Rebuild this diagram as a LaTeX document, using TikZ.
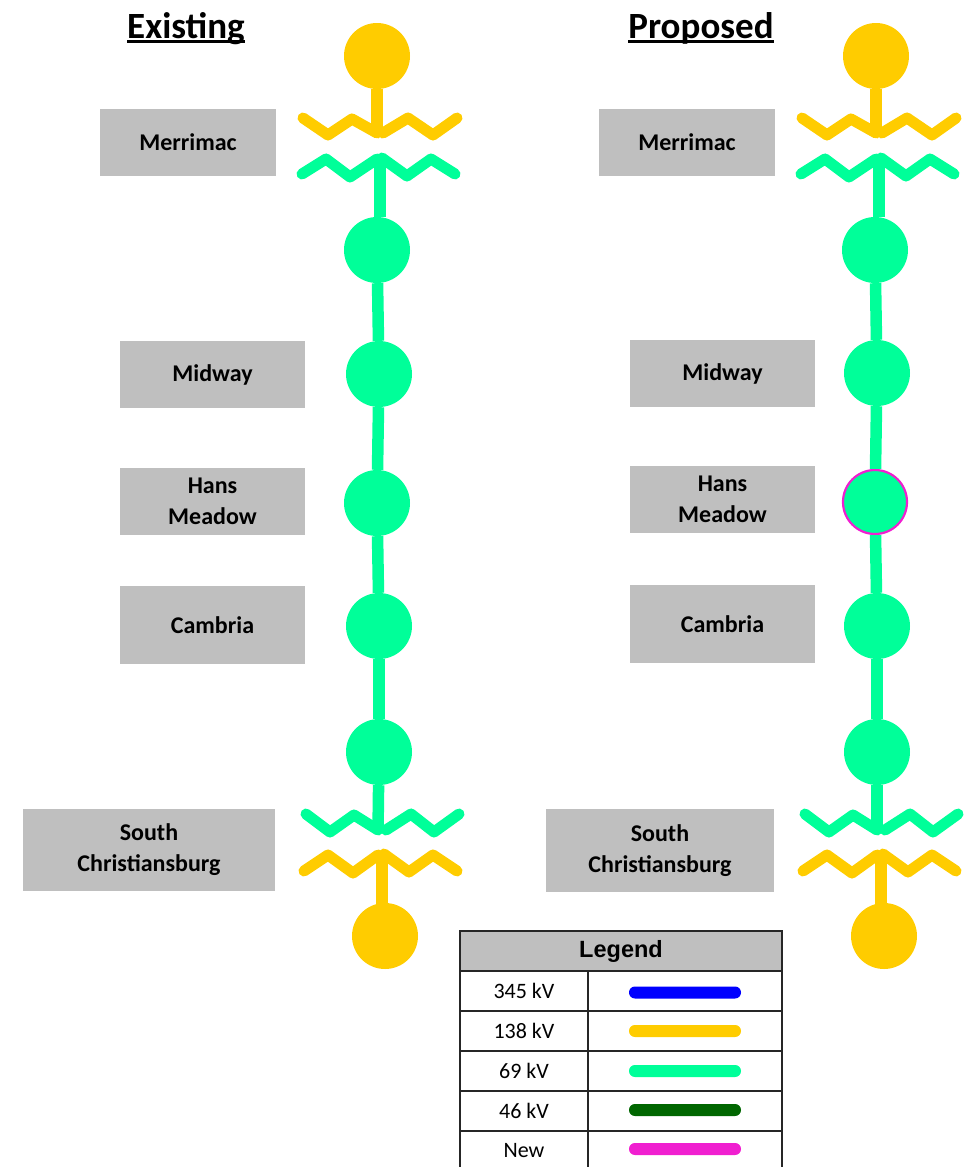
\documentclass[tikz,border=0pt]{standalone}
\usepackage{fontspec}
\setmainfont{Carlito}
\newfontfamily\arialfont{Liberation Sans}
\definecolor{yel}{HTML}{FFCC00}
\definecolor{grn}{HTML}{00FF99}
\definecolor{dgrn}{HTML}{006600}
\definecolor{mag}{HTML}{F01FD0}
\definecolor{blu}{HTML}{0000FF}
\definecolor{gry}{HTML}{BFBFBF}
\definecolor{gridc}{HTML}{262626}
\newcommand\ulbox[1]{\setbox0\hbox{#1}\rlap{\rule[-0.135em]{\wd0}{0.075em}}\box0}
\tikzset{
  bus/.style={circle,inner sep=0pt,minimum size=66pt,fill=#1},
  wire/.style={line width=11.5pt,color=#1},
  zig/.style={line width=11pt,color=#1,line cap=round,line join=round},
  label box/.style={fill=gry,font=\fontsize{24}{31}\selectfont\bfseries,align=center,inner sep=0pt,text=black},
  title text/.style={font=\fontsize{37}{44}\selectfont\bfseries,inner sep=0pt,anchor=base,text=black},
  cell/.style={draw=gridc,line width=1.5pt,inner sep=0pt,font=\fontsize{22}{26}\selectfont},
  bar/.style={fill=#1,rounded corners=5.9pt,minimum width=112pt,minimum height=12pt,inner sep=0pt},
}
\newcommand\zigtop{%
  \draw[zig=yel] (303,118)--(328,135)--(352,119)--(377,133);
  \draw[zig=yel] (383,133)--(408,118)--(433,135)--(457,118);
  \draw[zig=grn] (302,174)--(326,159)--(350,177)--(377,159);
  \draw[zig=grn] (382,158)--(407,176)--(431,159)--(455,174);
  \draw[zig=grn] (306,814)--(330,832)--(354,815)--(378,830);
  \draw[zig=grn] (386,830)--(411,814)--(434,832)--(459,814);
  \draw[zig=yel] (304,871)--(328,855)--(353,873)--(378,855);
  \draw[zig=yel] (384,854)--(409,872)--(433,855)--(457,871);
}
\begin{document}
\begin{tikzpicture}[x=1pt,y=-1pt]
\useasboundingbox (0,0) rectangle (974,1167);
% titles
\node[title text] (t1) at (186,38) {\ulbox{Existing}};
\node[title text] (t2) at (701,38) {\ulbox{Proposed}};
% zigzags
\zigtop
\begin{scope}[xshift=499pt]\zigtop\end{scope}
% existing
\node[bus=yel] (ea) at (377,56) {};
\node[bus=grn] (eb) at (377,250) {};
\node[bus=grn] (ec) at (379,374) {};
\node[bus=grn] (ed) at (377,503) {};
\node[bus=grn] (ee) at (379,626) {};
\node[bus=grn] (ef) at (379,752) {};
\node[bus=yel] (eg) at (385,936) {};
\coordinate (e1) at (377,134);
\coordinate (e2) at (380,158);
\coordinate (e3) at (378,832);
\coordinate (e4) at (382,854);
\draw[wire=yel] (ea) -- (e1);
\draw[wire=grn] (e2) -- (380,217);
\draw[wire=grn] (eb) -- (ec);
\draw[wire=grn] (ec) -- (ed);
\draw[wire=grn] (ed) -- (ee);
\draw[wire=grn] (ee) -- (ef);
\draw[wire=grn] (ef) -- (e3);
\draw[wire=yel] (e4) -- (382,910);
% proposed
\node[bus=yel] (pa) at (876,56) {};
\node[bus=grn] (pb) at (875,250) {};
\node[bus=grn] (pc) at (877,373) {};
\node[bus=grn,draw=mag,line width=2.2pt,minimum size=64pt] (pd) at (875,502) {};
\node[bus=grn] (pe) at (877,626) {};
\node[bus=grn] (pf) at (877,752) {};
\node[bus=yel] (pg) at (884,936) {};
\coordinate (p1) at (876,134);
\coordinate (p2) at (879,158);
\coordinate (p3) at (877,832);
\coordinate (p4) at (881,854);
\draw[wire=yel] (pa) -- (p1);
\draw[wire=grn] (p2) -- (879,217);
\draw[wire=grn] (pb) -- (pc);
\draw[wire=grn] (pc) -- (pd);
\draw[wire=grn] (pd) -- (pe);
\draw[wire=grn] (pe) -- (pf);
\draw[wire=grn] (pf) -- (p3);
\draw[wire=yel] (p4) -- (881,910);
% labels existing
\node[label box,minimum width=176pt,minimum height=67pt] (l1) at (188,142.5) {Merrimac};
\node[label box,minimum width=185pt,minimum height=67pt] (l2) at (212.5,374.5) {Midway};
\node[label box,minimum width=185pt,minimum height=67pt] (l3) at (212.5,501.5) {Hans\\Meadow};
\node[label box,minimum width=185pt,minimum height=78pt] (l4) at (212.5,625) {Cambria};
\node[label box,minimum width=252pt,minimum height=82pt] (l5) at (149,850) {South\\Christiansburg};
% labels proposed
\node[label box,minimum width=176pt,minimum height=67pt] (r1) at (687,142.5) {Merrimac};
\node[label box,minimum width=185pt,minimum height=67pt] (r2) at (722.5,373.5) {Midway};
\node[label box,minimum width=185pt,minimum height=67pt] (r3) at (722.5,499.5) {Hans\\Meadow};
\node[label box,minimum width=185pt,minimum height=78pt] (r4) at (722.5,624) {Cambria};
\node[label box,minimum width=228pt,minimum height=83pt] (r5) at (660,850.5) {South\\Christiansburg};
% legend
\node[cell,fill=gry,minimum width=322pt,minimum height=40pt,font=\arialfont\fontsize{23.5}{26}\selectfont\bfseries] (lg) at (621,951) {Legend};
\foreach \n/\t/\c/\y/\b in {a/345 kV/blu/991/992.5,b/138 kV/yel/1031/1031,c/69 kV/grn/1071/1071,d/46 kV/dgrn/1111/1110,e/New/mag/1151/1149}{
  \node[cell,minimum width=128pt,minimum height=40pt] (k\n) at (524,\y) {\t};
  \node[cell,minimum width=194pt,minimum height=40pt] (v\n) at (685,\y) {};
  \node[bar=\c] (b\n) at (685,\b) {};
}
\end{tikzpicture}
\end{document}
